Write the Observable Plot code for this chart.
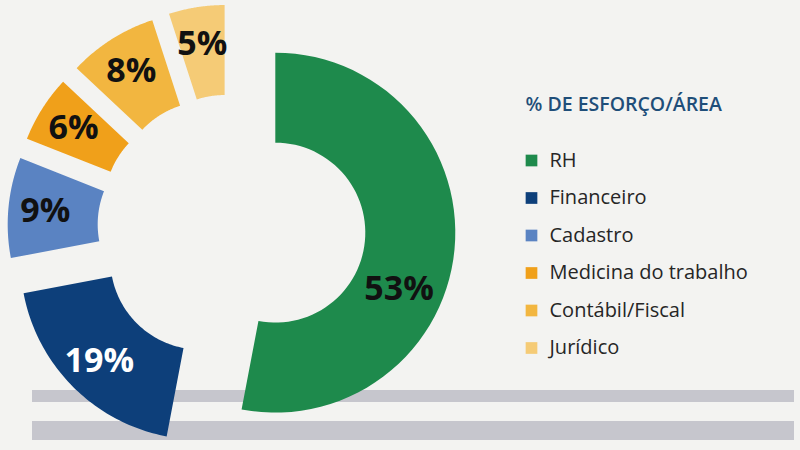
<!DOCTYPE html>
<html><head><meta charset="utf-8">
<script src="https://cdn.jsdelivr.net/npm/d3@7"></script>
<script src="https://cdn.jsdelivr.net/npm/@observablehq/plot@0.6"></script>
<style>
body{margin:0;background:#f3f3f1;width:800px;height:450px;overflow:hidden;position:relative;font-family:"Open Sans",sans-serif}
.bar{position:absolute;left:32px;width:762px;background:#c6c6cd}
#chart{position:absolute;left:0;top:0}
</style></head><body>
<div class="bar" style="top:390px;height:12px"></div>
<div class="bar" style="top:421px;height:19px"></div>
<div id="chart"></div>
<script>
const categories = ["RH","Financeiro","Cadastro","Medicina do trabalho","Contábil/Fiscal","Jurídico"];
const values = [53,19,9,6,8,5];
const labels = ["53%","19%","9%","6%","8%","5%"];
const colors = ["#1e8a4c","#0d3f7a","#5a83c2","#f0a01a","#f2b640","#f5cb76"];
const labelColors = ["#111111","#ffffff","#111111","#111111","#111111","#111111"];
const legendTitle = "% DE ESFORÇO/ÁREA";

// layout
const cx = 231, cy = 228, rIn = 90, rOut = 180, explode = 44;
const pie = d3.pie().sort(null).value(d => d.value);
const table = categories.map((c, i) => ({name: c, value: values[i], label: labels[i], color: colors[i], lc: labelColors[i]}));
const arcs = pie(table);

const pt = (x0, y0, r, a) => [x0 + r * Math.sin(a), y0 - r * Math.cos(a)];
const poly = [];
const labelPts = [];
arcs.forEach(a => {
  const mid = (a.startAngle + a.endAngle) / 2;
  const [ox, oy] = pt(cx, cy, explode, mid);
  const n = 60;
  const pts = [];
  for (let k = 0; k <= n; k++) pts.push(pt(ox, oy, rOut, a.startAngle + (a.endAngle - a.startAngle) * k / n));
  for (let k = n; k >= 0; k--) pts.push(pt(ox, oy, rIn, a.startAngle + (a.endAngle - a.startAngle) * k / n));
  pts.forEach(([x, y]) => poly.push({x, y, name: a.data.name}));
  const la = a.data.value > 50 ? a.startAngle + (a.endAngle - a.startAngle) * 0.6 : mid;
  const lr = a.data.value > 50 ? 136 : 143;
  const [lx, ly] = pt(ox, oy, lr, la);
  labelPts.push({x: lx, y: ly, label: a.data.label, lc: a.data.lc});
});

const legend = table.map((d, i) => ({x: 531, y: 160 + i * 37.5, name: d.name, color: d.color}));

const chart = Plot.plot({
  width: 800, height: 450,
  margin: 0,
  x: {domain: [0, 800], range: [0, 800], axis: null},
  y: {domain: [0, 450], range: [0, 450], axis: null},
  color: {domain: categories, range: colors},
  style: {background: "transparent", fontFamily: "'Open Sans', sans-serif"},
  marks: [
    Plot.line(poly, {x: "x", y: "y", z: "name", fill: "name", stroke: null, curve: "linear-closed"}),
    Plot.text(labelPts, {x: "x", y: "y", text: "label", fill: d => d.lc, fontSize: 34, fontWeight: "bold", textAnchor: "middle", dy: 0}),
    Plot.text([legendTitle], {x: () => 525, y: () => 104, text: d => d, fill: "#1f4e79", fontSize: 19.5, fontWeight: 600, textAnchor: "start"}),
    Plot.dot(legend, {x: "x", y: "y", symbol: "square", r: 6.6, fill: "color", stroke: null}),
    Plot.text(legend, {x: d => d.x + 18, y: "y", text: "name", fill: "#262626", fontSize: 20, textAnchor: "start"})
  ]
});
document.getElementById("chart").append(chart);
</script>
</body></html>
